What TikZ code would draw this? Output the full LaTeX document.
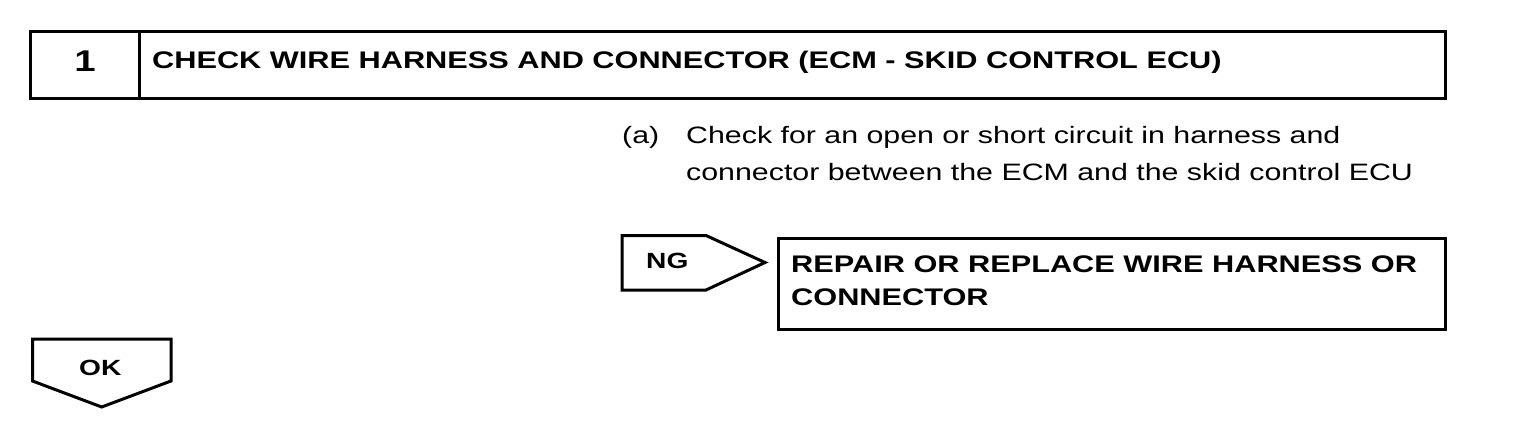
\documentclass[tikz,border=0pt]{standalone}
\usepackage{fontspec}
\setmainfont[FakeStretch=1.28]{Liberation Sans}

\tikzset{
	frame/.style={draw, line width=3pt},
	head/.style={font=\fontsize{24}{33}\selectfont\bfseries, inner sep=0pt, anchor=base west},
	body/.style={font=\fontsize{23.7}{37}\selectfont, inner sep=0pt, anchor=base west},
	tag/.style={font=\fontsize{22}{26}\selectfont\bfseries, inner sep=0pt, anchor=base west}
}

\begin{document}
\begin{tikzpicture}[x=1pt,y=-1pt]
		\useasboundingbox (0,0) rectangle (1520,436);
		\draw[frame] (30,32) rectangle (1445.5,98.5);
		\draw[frame] (139,32) -- (139,98.5);
		\node[font=\fontsize{30}{36}\selectfont\bfseries, inner sep=0pt, anchor=base] (num) at (85,71.7) {1};
		\node[head] (title) at (152,68.3) {CHECK WIRE HARNESS AND CONNECTOR (ECM - SKID CONTROL ECU)};
		\node[body] (stepa) at (622,143) {(a)};
		\node[body] (linea) at (686,143) {Check for an open or short circuit in harness and};
		\node[body] (lineb) at (686,180) {connector between the ECM and the skid control ECU};
		\draw[frame] (622,235.5) -- (706,235.5) -- (765,262.5) -- (706,290) -- (622,290) -- cycle;
		\node[tag] (ng) at (646,268) {NG};
		\draw[frame] (778.7,238.7) rectangle (1445.5,329.5);
		\node[head] (repa) at (791,272) {REPAIR OR REPLACE WIRE HARNESS OR};
		\node[head] (repb) at (791,305) {CONNECTOR};
		\draw[frame] (32.5,339) -- (171,339) -- (171,381) -- (101.7,407) -- (32.5,381) -- cycle;
		\node[tag] (ok) at (79,375) {OK};
	\end{tikzpicture}
\end{document}
